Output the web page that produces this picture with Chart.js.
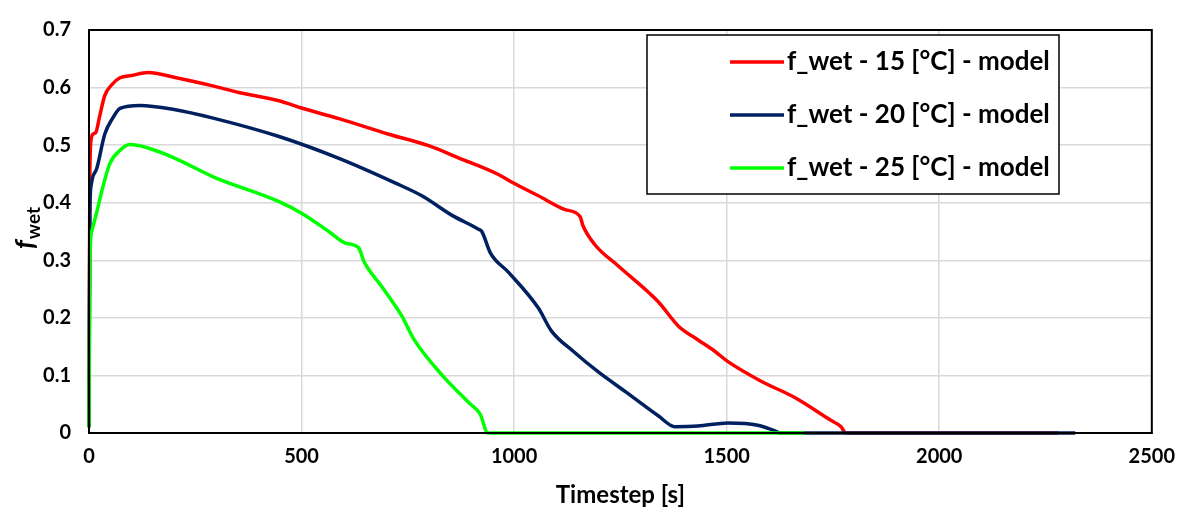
<!DOCTYPE html>
<html>
<head>
<meta charset="utf-8">
<script src="https://cdn.jsdelivr.net/npm/chart.js@4.4.1/dist/chart.umd.min.js"></script>
<style>
  html, body { margin: 0; padding: 0; background: #fff; }
  #wrap { width: 1187px; height: 514px; }
</style>
</head>
<body>
<div id="wrap"><canvas id="c" width="1187" height="514"></canvas></div>
<script>
// series data
const labels = ['f_wet - 15 [°C] - model', 'f_wet - 20 [°C] - model', 'f_wet - 25 [°C] - model'];
const colors = ['#ff0000', '#002060', '#00ff00'];

const t15 = [0, 2, 5, 9, 16, 25, 37, 55, 73, 100, 139, 200, 291, 350, 447, 502, 588, 705, 799, 869, 963, 994, 1057, 1120, 1155, 1162, 1190, 1245, 1339, 1386, 1432, 1472, 1503, 1581, 1659, 1745, 1769, 1780, 2280];
const f15 = [0.01, 0.45, 0.51, 0.519, 0.522, 0.55, 0.586, 0.606, 0.617, 0.621, 0.626, 0.618, 0.603, 0.592, 0.577, 0.564, 0.546, 0.519, 0.499, 0.478, 0.449, 0.436, 0.412, 0.388, 0.376, 0.36, 0.327, 0.29, 0.228, 0.186, 0.162, 0.142, 0.124, 0.09, 0.062, 0.022, 0.011, 0, 0];

const t20 = [0, 2, 5, 9, 18, 37, 55, 73, 120, 200, 292, 447, 588, 721, 783, 854, 916, 924, 944, 987, 1057, 1088, 1139, 1198, 1269, 1339, 1378, 1432, 1503, 1573, 1616, 1625, 2320];
const f20 = [0.01, 0.38, 0.43, 0.445, 0.459, 0.519, 0.546, 0.564, 0.569, 0.562, 0.547, 0.515, 0.477, 0.434, 0.412, 0.378, 0.354, 0.35, 0.313, 0.279, 0.217, 0.177, 0.142, 0.106, 0.068, 0.03, 0.011, 0.012, 0.0175, 0.0136, 0.003, 0, 0];

const t25 = [0, 2, 7, 18, 30, 49, 73, 96, 135, 200, 292, 447, 502, 564, 603, 635, 646, 689, 736, 764, 830, 893, 920, 938, 1683];
const f25 = [0.01, 0.3, 0.352, 0.383, 0.42, 0.468, 0.491, 0.501, 0.496, 0.478, 0.445, 0.402, 0.381, 0.35, 0.33, 0.321, 0.299, 0.254, 0.203, 0.163, 0.101, 0.053, 0.033, 0, 0];

const xTicks = [0, 500, 1000, 1500, 2000, 2500];
const yTicks = [0, 0.1, 0.2, 0.3, 0.4, 0.5, 0.6, 0.7];

function pts(xs, ys) { return xs.map((x, i) => ({ x: x, y: ys[i] })); }

const FONT = 'Lato, "Open Sans", sans-serif';

const framePlugin = {
  id: 'frame',
  afterDatasetsDraw(chart) {
    const ctx = chart.ctx, a = chart.chartArea;
    ctx.save();
    ctx.strokeStyle = '#000';
    ctx.lineWidth = 2;
    ctx.strokeRect(a.left, a.top, a.right - a.left, a.bottom - a.top);
    ctx.restore();
  },
  afterDraw(chart) {
    const ctx = chart.ctx, a = chart.chartArea;
    ctx.save();
    // x title
    ctx.fillStyle = '#000';
    ctx.font = 'bold 24px ' + FONT;
    ctx.textAlign = 'center';
    ctx.textBaseline = 'middle';
    ctx.fillText('Timestep [s]', (a.left + a.right) / 2, 495);
    // y title f_wet rotated
    ctx.translate(26, 228);
    ctx.rotate(-Math.PI / 2);
    ctx.textAlign = 'left';
    ctx.textBaseline = 'alphabetic';
    ctx.font = 'italic bold 27px ' + FONT;
    const fw = ctx.measureText('f').width;
    ctx.font = 'bold 19px ' + FONT;
    const ww = ctx.measureText('wet').width;
    const start = -(fw + ww + 1) / 2;
    ctx.font = 'italic bold 27px ' + FONT;
    ctx.fillText('f', start, 8);
    ctx.font = 'bold 19px ' + FONT;
    ctx.fillText('wet', start + fw + 1, 14);
    ctx.restore();

    // legend box
    const bx = 647, by = 35, bw = 412, bh = 159;
    ctx.save();
    ctx.fillStyle = '#fff';
    ctx.fillRect(bx, by, bw, bh);
    ctx.strokeStyle = '#000';
    ctx.lineWidth = 1.5;
    ctx.strokeRect(bx, by, bw, bh);
    const rows = [62, 115, 168];
    ctx.font = 'bold 26px ' + FONT;
    ctx.textBaseline = 'middle';
    ctx.textAlign = 'left';
    labels.forEach((lab, i) => {
      ctx.strokeStyle = colors[i];
      ctx.lineWidth = 3.5;
      ctx.beginPath();
      ctx.moveTo(730, rows[i]);
      ctx.lineTo(784, rows[i]);
      ctx.stroke();
      ctx.fillStyle = '#000';
      ctx.fillText(lab, 787, rows[i]);
    });
    ctx.restore();
  }
};

const ds = [pts(t15, f15), pts(t20, f20), pts(t25, f25)];
const orders = [2, 1, 0];

new Chart(document.getElementById('c').getContext('2d'), {
  type: 'line',
  data: {
    datasets: ds.map((d, i) => ({
      label: labels[i],
      data: d,
      borderColor: colors[i],
      backgroundColor: colors[i],
      borderWidth: 3.5,
      pointRadius: 0,
      cubicInterpolationMode: 'monotone',
      clip: false,
      order: orders[i]
    }))
  },
  options: {
    responsive: false,
    animation: false,
    layout: { padding: { left: 0, top: 20, right: 31, bottom: 0 } },
    plugins: { legend: { display: false }, tooltip: { enabled: false } },
    scales: {
      x: {
        type: 'linear',
        min: 0,
        max: 2500,
        afterBuildTicks: s => { s.ticks = xTicks.map(v => ({ value: v })); },
        afterFit: s => { s.height = 81; },
        grid: { color: '#d9d9d9', lineWidth: 1.5, drawTicks: false },
        border: { color: '#000', width: 2 },
        ticks: {
          color: '#000', padding: 12,
          font: { family: FONT, size: 20, weight: 'bold' },
          callback: v => String(v)
        }
      },
      y: {
        min: 0,
        max: 0.7,
        afterBuildTicks: s => { s.ticks = yTicks.map(v => ({ value: v })); },
        afterFit: s => { s.width = 89; },
        grid: { color: '#d9d9d9', lineWidth: 1.5, drawTicks: false },
        border: { color: '#000', width: 2 },
        ticks: {
          color: '#000', padding: 18,
          font: { family: FONT, size: 20, weight: 'bold' },
          callback: v => String(Math.round(v * 10) / 10)
        }
      }
    }
  },
  plugins: [framePlugin]
});
</script>
</body>
</html>
